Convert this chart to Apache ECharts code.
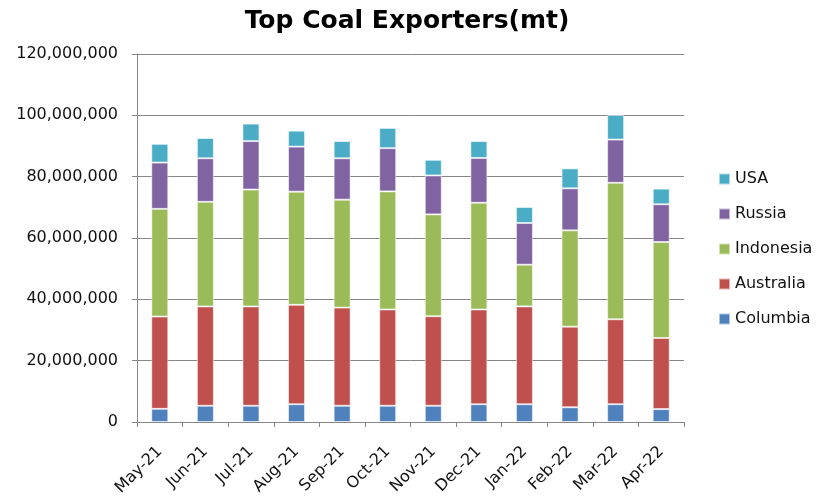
<!DOCTYPE html>
<html>
<head>
<meta charset="utf-8">
<script src="https://cdn.jsdelivr.net/npm/echarts@6/dist/echarts.min.js"></script>
<style>html,body{margin:0;padding:0;background:#fff}#c{width:819px;height:496px}</style>
</head>
<body>
<div id="c"></div>
<script>
var categories = ['May-21','Jun-21','Jul-21','Aug-21','Sep-21','Oct-21','Nov-21','Dec-21','Jan-22','Feb-22','Mar-22','Apr-22'];
var columbia  = [4300000,5300000,5300000,5800000,5300000,5300000,5300000,5800000,5800000,4800000,5800000,4200000];
var australia = [30100000,32400000,32400000,32400000,32000000,31400000,29200000,30900000,31900000,26300000,27700000,23200000];
var indonesia = [35100000,34100000,38100000,36900000,35200000,38500000,33200000,34800000,13600000,31400000,44500000,31300000];
var russia    = [15100000,14200000,15800000,14700000,13500000,14100000,12700000,14600000,13600000,13700000,14100000,12300000];
var usa       = [6100000,6600000,5700000,5200000,5600000,6600000,5100000,5500000,5200000,6500000,8000000,5100000];
var legendOrder = ['USA','Russia','Indonesia','Australia','Columbia'];

var font = 'DejaVu Sans';
function ser(name, data, color) {
  return {
    name: name, type: 'bar', stack: 'total', data: data,
    barWidth: 17,
    itemStyle: { color: color, borderColor: 'rgba(255,255,255,0.55)', borderWidth: 1 }
  };
}
var chart = echarts.init(document.getElementById('c'), null, { renderer: 'canvas' });
chart.setOption({
  animation: false,
  title: {
    text: 'Top Coal Exporters(mt)', left: 402, top: 4, textAlign: 'center',
    textStyle: { fontFamily: font, fontWeight: 'bold', fontSize: 25, color: '#000' }
  },
  legend: {
    data: legendOrder, orient: 'vertical', left: 718, top: 171, padding: 0,
    itemWidth: 11, itemHeight: 11, itemGap: 19, icon: 'rect',
    textStyle: { fontFamily: font, fontSize: 16, color: '#111' }
  },
  grid: { left: 137, right: 135, top: 54, bottom: 74, containLabel: false, outerBoundsMode: 'none' },
  xAxis: {
    type: 'category', data: categories, boundaryGap: true,
    axisLine: { lineStyle: { color: '#868686', width: 1 } },
    axisTick: { show: true, length: 5, alignWithLabel: false, lineStyle: { color: '#868686' } },
    axisLabel: { rotate: 45, fontFamily: font, fontSize: 16, color: '#111', margin: 27, interval: 0 }
  },
  yAxis: {
    type: 'value', min: 0, max: 120000000, interval: 20000000,
    axisLine: { show: true, lineStyle: { color: '#868686', width: 1 } },
    axisTick: { show: true, length: 5, lineStyle: { color: '#868686' } },
    splitLine: { show: true, lineStyle: { color: '#868686', width: 1 } },
    axisLabel: {
      fontFamily: font, fontSize: 16, color: '#111', margin: 19,
      formatter: function (v) { return v.toLocaleString('en-US'); }
    }
  },
  series: [
    ser('Columbia', columbia, '#4F81BD'),
    ser('Australia', australia, '#C0504D'),
    ser('Indonesia', indonesia, '#9BBB59'),
    ser('Russia', russia, '#8064A2'),
    ser('USA', usa, '#4BACC6')
  ]
});
</script>
</body>
</html>
